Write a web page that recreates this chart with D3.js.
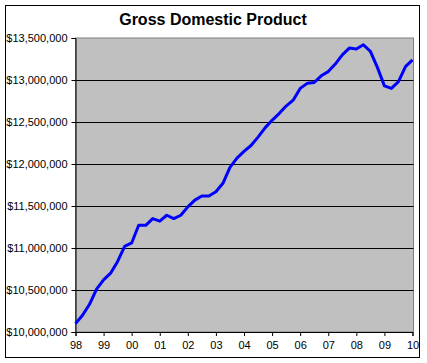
<!DOCTYPE html>
<html>
<head>
<meta charset="utf-8">
<script src="https://cdn.jsdelivr.net/npm/d3@7"></script>
<style>
  body { margin: 0; background: #fff; }
  svg { display: block; }
  text { font-family: Arial, "Liberation Sans", sans-serif; }
</style>
</head>
<body>
<script>
'use strict';

// quarterly GDP, 1998 Q1 .. 2010 Q1 (millions of dollars)
let quarters = d3.range(0, 49).map((i) => 1998 + i / 4);
let gdp = [
  10100000, 10200000, 10330000, 10510000,
  10620000, 10700000, 10840000, 11020000,
  11060000, 11270000, 11270000, 11350000,
  11320000, 11390000, 11350000, 11390000,
  11490000, 11570000, 11620000, 11620000,
  11670000, 11770000, 11960000, 12070000,
  12150000, 12220000, 12320000, 12430000,
  12520000, 12600000, 12690000, 12760000,
  12900000, 12960000, 12970000, 13050000,
  13100000, 13190000, 13300000, 13380000,
  13370000, 13420000, 13340000, 13150000,
  12930000, 12900000, 12980000, 13160000,
  13240000
];
let yearTicks = d3.range(1998, 2011);
let yearLabels = ["98", "99", "00", "01", "02", "03", "04", "05", "06", "07", "08", "09", "10"];
let valueTicks = [10000000, 10500000, 11000000, 11500000, 12000000, 12500000, 13000000, 13500000];

let width = 427, height = 363;
let plot = { left: 75.5, right: 413.5, top: 38, bottom: 332 };

let svg = d3.select('body')
  .append('svg')
  .attr('width', width)
  .attr('height', height);

// outer frame
svg.append('rect')
  .attr('x', 5.5).attr('y', 5.5)
  .attr('width', 414).attr('height', 352)
  .attr('fill', '#fff')
  .attr('stroke', '#000');

let xScale = d3.scaleLinear()
  .domain([1998, 2010])
  .range([plot.left, plot.right - 1]);

let yScale = d3.scaleLinear()
  .domain([10000000, 13500000])
  .range([plot.bottom, plot.top]);

// plot area
svg.append('rect')
  .attr('x', plot.left).attr('y', plot.top)
  .attr('width', plot.right - plot.left)
  .attr('height', plot.bottom - plot.top)
  .attr('fill', '#c0c0c0')
  .attr('stroke', '#808080');

// gridlines
svg.append('g')
  .selectAll('line')
  .data(valueTicks.slice(1, -1))
  .enter()
  .append('line')
    .attr('x1', plot.left).attr('x2', plot.right)
    .attr('y1', (d) => Math.round(yScale(d)) + 0.5)
    .attr('y2', (d) => Math.round(yScale(d)) + 0.5)
    .attr('stroke', '#000');

let fmt = d3.format(',');

let yAxis = d3.axisLeft(yScale)
  .tickValues(valueTicks)
  .tickSize(4)
  .tickPadding(4)
  .tickFormat((d) => '$' + fmt(d));
let gy = svg.append('g')
  .attr('transform', 'translate(' + plot.left + ',0)')
  .call(yAxis);

let xAxis = d3.axisBottom(xScale)
  .tickValues(yearTicks)
  .tickSize(4)
  .tickPadding(5)
  .tickFormat((d, i) => yearLabels[i]);
let gx = svg.append('g')
  .attr('transform', 'translate(0,' + plot.bottom + ')')
  .call(xAxis);

[gx, gy].forEach((g) => {
  g.select('.domain').attr('stroke', '#000').attr('stroke-width', 1);
  g.selectAll('.tick line').attr('stroke', '#000');
  g.selectAll('text')
    .attr('fill', '#000')
    .style('font-size', '11px')
    .style('font-family', 'Arial, "Liberation Sans", sans-serif');
});

// GDP line
let line = d3.line()
  .x((d, i) => xScale(quarters[i]))
  .y((d) => yScale(d));

svg.append('path')
  .attr('d', line(gdp))
  .attr('fill', 'none')
  .attr('stroke', '#0000ff')
  .attr('stroke-width', 3)
  .attr('stroke-linejoin', 'round');

// title
svg.append('text')
  .attr('x', 213)
  .attr('y', 25)
  .attr('text-anchor', 'middle')
  .style('font-size', '16px')
  .style('font-weight', 'bold')
  .text('Gross Domestic Product');
</script>
</body>
</html>
